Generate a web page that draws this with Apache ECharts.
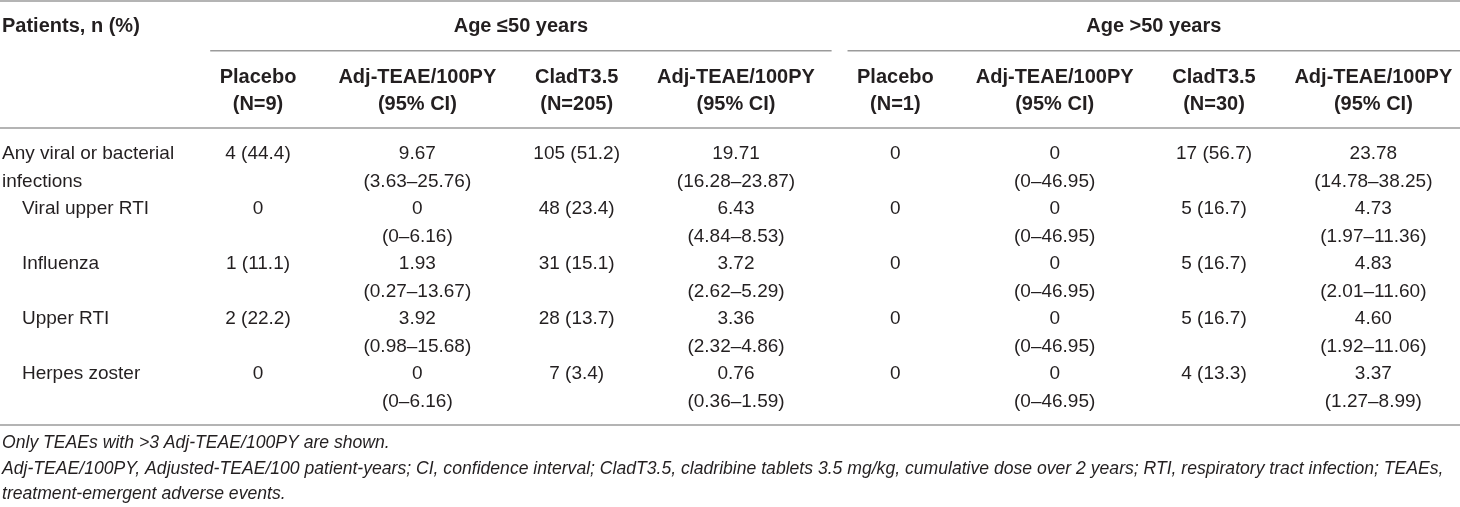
<!DOCTYPE html>
<html>
<head>
<meta charset="utf-8">
<script src="https://cdn.jsdelivr.net/npm/echarts@6/dist/echarts.min.js"></script>
<style>
  html, body { margin: 0; padding: 0; background: #fff; }
  #table_chart { width: 1460px; height: 507px; }
</style>
</head>
<body>
<div id="table_chart"></div>
<script>
var columnKeys = ["label", "pbo50", "pbo50Rate", "clad50", "clad50Rate", "pbo51", "pbo51Rate", "clad51", "clad51Rate"];
var stubHead = "Patients, n (%)";
var groupLabels = ["Age ≤50 years", "Age >50 years"];
var columnHeads = [
  "Placebo\n(N=9)", "Adj-TEAE/100PY\n(95% CI)", "CladT3.5\n(N=205)", "Adj-TEAE/100PY\n(95% CI)",
  "Placebo\n(N=1)", "Adj-TEAE/100PY\n(95% CI)", "CladT3.5\n(N=30)", "Adj-TEAE/100PY\n(95% CI)"
];
var rowLabels = ["Any viral or bacterial\ninfections", "Viral upper RTI", "Influenza", "Upper RTI", "Herpes zoster"];

var pbo50N = [4, 0, 1, 2, 0];
var pbo50Pct = [44.4, 0, 11.1, 22.2, 0];
var pbo50Rate = [9.67, 0, 1.93, 3.92, 0];
var pbo50Lo = [3.63, 0, 0.27, 0.98, 0];
var pbo50Hi = [25.76, 6.16, 13.67, 15.68, 6.16];

var clad50N = [105, 48, 31, 28, 7];
var clad50Pct = [51.2, 23.4, 15.1, 13.7, 3.4];
var clad50Rate = [19.71, 6.43, 3.72, 3.36, 0.76];
var clad50Lo = [16.28, 4.84, 2.62, 2.32, 0.36];
var clad50Hi = [23.87, 8.53, 5.29, 4.86, 1.59];

var pbo51N = [0, 0, 0, 0, 0];
var pbo51Pct = [0, 0, 0, 0, 0];
var pbo51Rate = [0, 0, 0, 0, 0];
var pbo51Lo = [0, 0, 0, 0, 0];
var pbo51Hi = [46.95, 46.95, 46.95, 46.95, 46.95];

var clad51N = [17, 5, 5, 5, 4];
var clad51Pct = [56.7, 16.7, 16.7, 16.7, 13.3];
var clad51Rate = [23.78, 4.73, 4.83, 4.60, 3.37];
var clad51Lo = [14.78, 1.97, 2.01, 1.92, 1.27];
var clad51Hi = [38.25, 11.36, 11.60, 11.06, 8.99];

var footnotes = [
  "Only TEAEs with >3 Adj-TEAE/100PY are shown.",
  "Adj-TEAE/100PY, Adjusted-TEAE/100 patient-years; CI, confidence interval; CladT3.5, cladribine tablets 3.5 mg/kg, cumulative dose over 2 years; RTI, respiratory tract infection; TEAEs,",
  "treatment-emergent adverse events."
];

// ---- layout (y in text-line units, 1 unit = one body line) ----
var BODY_FONT = '19px "Liberation Sans", Arial, sans-serif';
var HEAD_FONT = 'bold 20px "Liberation Sans", Arial, sans-serif';
var NOTE_FONT = 'italic 17.6px "Liberation Sans", Arial, sans-serif';
var INK = "#231f20";
var RULE = "#9b9b9b";

var Y_GROUP = 0.98, Y_HEAD = 2.8, Y_BODY = 5.6, Y_NOTE = 16.11, NOTE_STEP = 0.935;
var rules = [
  { y: 0.04, group: -1 },
  { y: 1.845, group: 0 },
  { y: 1.845, group: 1 },
  { y: 4.655, group: -1 },
  { y: 15.45, group: -1 }
];

function num(v) { return v === 0 ? "0" : v.toFixed(2); }
function countText(n, pct) { return n === 0 ? "0" : n + " (" + pct.toFixed(1) + ")"; }
function rateText(r, lo, hi) { return num(r) + "\n(" + num(lo) + "–" + num(hi) + ")"; }

var cells = [];
function addCell(col, y, text, font, kind) {
  text.split("\n").forEach(function (line, i) {
    cells.push({ col: col, y: y + i, text: line, font: font, kind: kind });
  });
}

addCell(0, Y_GROUP, stubHead, HEAD_FONT, "stub");
groupLabels.forEach(function (g, i) { addCell(1 + i * 4, Y_GROUP, g, HEAD_FONT, "group" + i); });
columnHeads.forEach(function (h, i) { addCell(i + 1, Y_HEAD, h, HEAD_FONT, "center"); });

rowLabels.forEach(function (label, r) {
  var y = Y_BODY + r * 2;
  addCell(0, y, label, BODY_FONT, r === 0 ? "stub" : "sub");
  addCell(1, y, countText(pbo50N[r], pbo50Pct[r]), BODY_FONT, "center");
  addCell(2, y, rateText(pbo50Rate[r], pbo50Lo[r], pbo50Hi[r]), BODY_FONT, "center");
  addCell(3, y, countText(clad50N[r], clad50Pct[r]), BODY_FONT, "center");
  addCell(4, y, rateText(clad50Rate[r], clad50Lo[r], clad50Hi[r]), BODY_FONT, "center");
  addCell(5, y, countText(pbo51N[r], pbo51Pct[r]), BODY_FONT, "center");
  addCell(6, y, rateText(pbo51Rate[r], pbo51Lo[r], pbo51Hi[r]), BODY_FONT, "center");
  addCell(7, y, countText(clad51N[r], clad51Pct[r]), BODY_FONT, "center");
  addCell(8, y, rateText(clad51Rate[r], clad51Lo[r], clad51Hi[r]), BODY_FONT, "center");
});

footnotes.forEach(function (note, i) { addCell(0, Y_NOTE + i * NOTE_STEP, note, NOTE_FONT, "stub"); });

// span of a column group: from a bit left of its first column to past its last one
function groupSpan(api, g) {
  var bw = api.size([1, 0])[0];
  var first = api.coord([1 + g * 4, 0])[0];
  var last = api.coord([4 + g * 4, 0])[0];
  var x1 = first - 0.3 * bw;
  var x2 = g === groupLabels.length - 1 ? api.getWidth() : last + 0.6 * bw;
  return [x1, x2];
}

var chartDom = document.getElementById("table_chart");
var myChart = echarts.init(chartDom);
var option;

option = {
  animation: false,
  grid: { left: 19, right: 7, top: 0, bottom: 0 },
  xAxis: { type: "category", data: columnKeys, show: false },
  yAxis: { type: "value", min: 0, max: 507 / 27.5, inverse: true, show: false },
  series: [
    {
      type: "custom",
      name: "rules",
      data: rules.map(function (r) { return [0, r.y]; }),
      renderItem: function (params, api) {
        var rule = rules[params.dataIndex];
        var y = api.coord([0, api.value(1)])[1];
        var span = rule.group < 0 ? [0, api.getWidth()] : groupSpan(api, rule.group);
        return {
          type: "line",
          shape: { x1: span[0], y1: y, x2: span[1], y2: y },
          style: { stroke: RULE, lineWidth: 1.5 }
        };
      }
    },
    {
      type: "custom",
      name: "cells",
      data: cells.map(function (c) { return [c.col, c.y]; }),
      renderItem: function (params, api) {
        var cell = cells[params.dataIndex];
        var p = api.coord([api.value(0), api.value(1)]);
        var bw = api.size([1, 0])[0];
        var x = p[0];
        var align = "center";
        if (cell.kind === "stub" || cell.kind === "sub") {
          align = "left";
          x = p[0] - bw / 2 - 17 + (cell.kind === "sub" ? 20 : 0);
        } else if (cell.kind.indexOf("group") === 0) {
          var span = groupSpan(api, +cell.kind.slice(5));
          x = (span[0] + span[1]) / 2;
        }
        return {
          type: "text",
          x: x,
          y: p[1],
          style: { text: cell.text, font: cell.font, fill: INK, align: align, verticalAlign: "middle" }
        };
      }
    }
  ]
};

option && myChart.setOption(option);
</script>
</body>
</html>
